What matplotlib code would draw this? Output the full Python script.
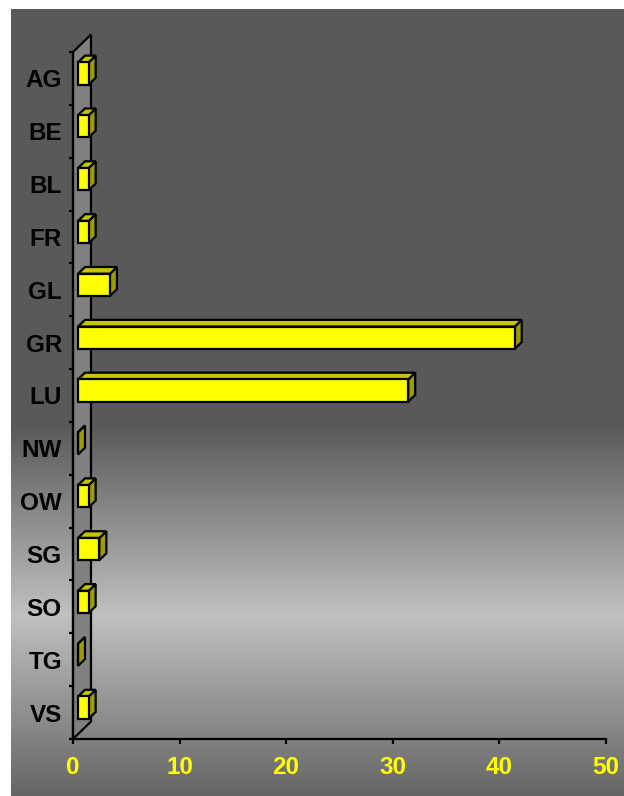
import numpy as np
import matplotlib
matplotlib.use('Agg')
import matplotlib.pyplot as plt
from matplotlib.patches import Polygon

# data
cantons = ['AG', 'BE', 'BL', 'FR', 'GL', 'GR', 'LU', 'NW', 'OW', 'SG', 'SO', 'TG', 'VS']
values = [1, 1, 1, 1, 3, 41, 31, 0, 1, 2, 1, 0, 1]
xticks = [0, 10, 20, 30, 40, 50]

plt.rcParams['font.family'] = ['Liberation Sans', 'DejaVu Sans']
plt.rcParams['font.weight'] = 'bold'

W, H = 624, 796
fig = plt.figure(figsize=(W / 100, H / 100), dpi=100)
fig.patch.set_facecolor('white')

# gray gradient panel behind the chart
bg = fig.add_axes([11 / W, 0, (W - 11) / W, (H - 9) / H])
ys = np.arange(9, H)
shade = np.interp(ys, [9, 425, 615, 796], [89, 89, 192, 100]) / 255
bg.imshow(np.repeat(shade[:, None], 2, axis=1), cmap='gray', vmin=0, vmax=1,
          aspect='auto', extent=[0, 1, 0, 1])
bg.axis('off')

ax = fig.add_axes([73 / W, 57 / H, 532.6 / W, 687 / H])
ax.set_facecolor('none')
ax.set_xlim(0, 50)
ax.set_ylim(len(cantons) - 0.5, -0.5)

wall_depth = (18, 17.5)   # pixels
bar_front = (5, 5)
bar_depth = (7, 6.7)
bar_h = 0.42


def shift(x, y, dx, dy):
    p = ax.transData.transform((x, y))
    return ax.transData.inverted().transform(p + np.array([dx, dy]))


# side wall
def shift_ax(x, y, dx, dy):
    p = ax.transAxes.transform((x, y))
    return ax.transAxes.inverted().transform(p + np.array([dx, dy]))


wall = [(0, 0), (0, 1), shift_ax(0, 1, *wall_depth), shift_ax(0, 0, *wall_depth)]
ax.add_patch(Polygon(wall, closed=True, transform=ax.transAxes, facecolor='#808080',
                     edgecolor='black', lw=1.6, zorder=1, clip_on=False))

back = (bar_front[0] + bar_depth[0], bar_front[1] + bar_depth[1])
for i, v in enumerate(values):
    y0, y1 = i - bar_h / 2, i + bar_h / 2   # y0 is upper edge (inverted axis)
    F = lambda x, y: shift(x, y, *bar_front)
    B = lambda x, y: shift(x, y, *back)
    side = [F(v, y1), F(v, y0), B(v, y0), B(v, y1)]
    top = [F(0, y0), F(v, y0), B(v, y0), B(0, y0)]
    front = [F(0, y1), F(v, y1), F(v, y0), F(0, y0)]
    for pts, c in [(side, '#9c9c00'), (top, '#c4c400'), (front, '#ffff00')]:
        ax.add_patch(Polygon(pts, closed=True, facecolor=c, edgecolor='black',
                             lw=1.6, joinstyle='miter', zorder=3, clip_on=False))

for s in ['top', 'right']:
    ax.spines[s].set_visible(False)
for s in ['left', 'bottom']:
    ax.spines[s].set_linewidth(1.6)
    ax.spines[s].set_zorder(2)

ax.set_yticks(range(len(cantons)))
ax.set_yticklabels(cantons, fontsize=17.5, fontweight='bold', color='black')
ax.tick_params(axis='y', which='major', length=0, pad=8)
ax.set_yticks(np.arange(-0.5, len(cantons), 1), minor=True)
ax.tick_params(axis='y', which='minor', length=3, width=1.6, direction='out')

ax.set_xticks(xticks)
ax.set_xticklabels([str(t) for t in xticks], fontsize=17.5, fontweight='bold')
ax.tick_params(axis='x', length=3.6, width=1.6, pad=9, labelcolor='#ffff00')

fig.savefig('out.png', dpi=100)
